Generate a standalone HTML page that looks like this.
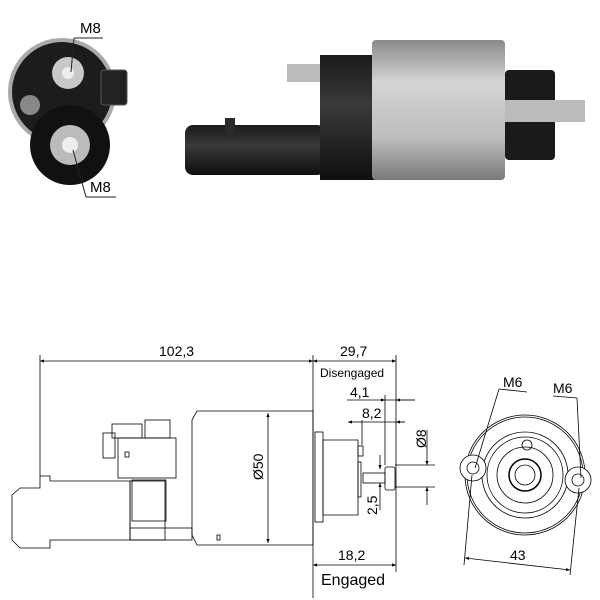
<!DOCTYPE html>
<html><head><style>body{margin:0;background:#fff}svg{display:block}</style></head><body>
<svg width="600" height="600" viewBox="0 0 600 600" xmlns="http://www.w3.org/2000/svg" font-family="Liberation Sans, sans-serif">
<defs>
<linearGradient id="sil" x1="0" y1="0" x2="0" y2="1"><stop offset="0" stop-color="#8a8a8a"/><stop offset="0.3" stop-color="#d4d4d2"/><stop offset="0.7" stop-color="#bdbdbb"/><stop offset="1" stop-color="#7a7a7a"/></linearGradient>
<linearGradient id="blk" x1="0" y1="0" x2="0" y2="1"><stop offset="0" stop-color="#1a1a1a"/><stop offset="0.4" stop-color="#3a3a3a"/><stop offset="1" stop-color="#0e0e0e"/></linearGradient>
<marker id="a" viewBox="0 0 10 10" refX="10" refY="5" markerWidth="7" markerHeight="5" orient="auto-start-reverse"><path d="M0,1L10,5L0,9z" fill="#000"/></marker>
</defs>
<!-- end view photo -->
<circle cx="62" cy="92" r="54" fill="#aaa"/>
<circle cx="62" cy="92" r="50" fill="#1c1c1c"/>
<circle cx="70" cy="145" r="40" fill="#111"/>
<circle cx="70" cy="145" r="20" fill="#bbb"/>
<circle cx="70" cy="145" r="8" fill="#eee"/>
<circle cx="68" cy="73" r="16" fill="#c8c8c8"/>
<circle cx="68" cy="73" r="6" fill="#eee"/>
<circle cx="30" cy="105" r="10" fill="#888"/>
<rect x="101" y="70" width="26" height="35" rx="3" fill="#222" stroke="#555"/>
<line x1="71" y1="72" x2="74" y2="38" stroke="#222"/><line x1="74" y1="38" x2="103" y2="38" stroke="#222"/>
<text x="80" y="33" font-size="15">M8</text>
<line x1="73" y1="150" x2="86" y2="197" stroke="#222"/><line x1="86" y1="197" x2="116" y2="197" stroke="#222"/>
<text x="90" y="192" font-size="15">M8</text>
<!-- side photo -->
<rect x="185" y="125" width="140" height="50" rx="8" fill="url(#blk)"/>
<rect x="225" y="118" width="10" height="20" fill="#2a2a2a"/>
<rect x="320" y="55" width="55" height="125" fill="url(#blk)"/>
<rect x="287" y="64" width="33" height="18" fill="#bbb"/>
<rect x="372" y="40" width="133" height="140" rx="4" fill="url(#sil)"/>
<rect x="505" y="70" width="50" height="90" rx="4" fill="#1a1a1a"/>
<rect x="505" y="100" width="80" height="22" fill="#bbb"/>
<!-- drawing -->
<g stroke="#000" stroke-width="0.8" fill="none">
<line x1="40" y1="355" x2="40" y2="476"/><line x1="313" y1="355" x2="313" y2="598"/><line x1="396" y1="355" x2="396" y2="572"/>
<line x1="40" y1="361" x2="313" y2="361" marker-start="url(#a)" marker-end="url(#a)"/>
<line x1="313" y1="361" x2="396" y2="361" marker-start="url(#a)" marker-end="url(#a)"/>
<line x1="347" y1="400" x2="385" y2="400" marker-end="url(#a)"/><line x1="385" y1="400" x2="415" y2="400"/>
<line x1="415" y1="400" x2="396" y2="400" marker-end="url(#a)"/>
<line x1="385" y1="395" x2="385" y2="465"/>
<line x1="348" y1="422" x2="362" y2="422" marker-start="url(#a)"/><line x1="362" y1="422" x2="405" y2="422"/>
<line x1="405" y1="422" x2="396" y2="422" marker-end="url(#a)"/>
<line x1="362" y1="420" x2="362" y2="445"/>
<line x1="395" y1="465" x2="435" y2="465"/><line x1="395" y1="487" x2="435" y2="487"/>
<line x1="427" y1="430" x2="427" y2="465" marker-end="url(#a)"/><line x1="427" y1="505" x2="427" y2="487" marker-end="url(#a)"/>
<line x1="380" y1="455" x2="380" y2="469" marker-end="url(#a)"/><line x1="380" y1="510" x2="380" y2="483" marker-end="url(#a)"/>
<line x1="268" y1="413" x2="268" y2="543" marker-start="url(#a)" marker-end="url(#a)"/>
<line x1="313" y1="565" x2="396" y2="565" marker-start="url(#a)" marker-end="url(#a)"/>
<!-- body -->
<path d="M197,411H313V545H197L192,535V420Z"/>
<rect x="315" y="432" width="8" height="90"/><path d="M323,440H358V515H323Z"/>
<rect x="358" y="446" width="5" height="10"/><rect x="358" y="462" width="3" height="35"/>
<rect x="363" y="473" width="22" height="10"/><rect x="385" y="467" width="10" height="23" rx="2"/>
<path d="M12,495L20,488H40V476H50V481H130V540H50V548H20L12,540Z"/>
<rect x="130" y="481" width="35" height="59"/><rect x="132" y="480" width="34" height="41"/>
<rect x="130" y="528" width="62" height="12"/>
<rect x="118" y="438" width="58" height="40"/><rect x="103" y="433" width="12" height="25"/>
<rect x="112" y="424" width="30" height="14"/><rect x="145" y="420" width="25" height="18"/>
<rect x="125" y="452" width="4" height="5"/><rect x="217" y="535" width="3" height="5"/>
<!-- end view drawing -->
<circle cx="525" cy="475" r="60"/><circle cx="525" cy="475" r="58"/>
<circle cx="525" cy="475" r="43"/><circle cx="525" cy="475" r="38"/>
<circle cx="525" cy="475" r="28"/><circle cx="525" cy="475" r="16" stroke-width="1.5"/>
<circle cx="525" cy="475" r="10"/><circle cx="527" cy="445" r="5"/>
<circle cx="473" cy="468" r="13" fill="#fff"/><circle cx="473" cy="468" r="6"/>
<circle cx="578" cy="480" r="13" fill="#fff"/><circle cx="578" cy="480" r="6"/>
<line x1="499" y1="389" x2="475" y2="468"/><line x1="499" y1="389" x2="527" y2="392"/>
<line x1="577" y1="398" x2="581" y2="478"/><line x1="553" y1="396" x2="577" y2="398"/>
<line x1="472" y1="475" x2="464" y2="565"/><line x1="579" y1="488" x2="570" y2="575"/>
<line x1="465" y1="558" x2="570" y2="570" marker-start="url(#a)" marker-end="url(#a)"/>
</g>
<g font-size="14">
<text x="159" y="356">102,3</text><text x="340" y="356">29,7</text>
<text x="320" y="377" font-size="12">Disengaged</text>
<text x="350" y="397">4,1</text><text x="362" y="418">8,2</text>
<text x="338" y="560">18,2</text><text x="321" y="585" font-size="16">Engaged</text>
<text x="510" y="560">43</text>
<text x="503" y="387">M6</text><text x="553" y="393">M6</text>
<text transform="translate(263,480) rotate(-90)">Ø50</text>
<text transform="translate(426,448) rotate(-90)">Ø8</text>
<text transform="translate(377,515) rotate(-90)">2,5</text>
</g>
</svg>
</body></html>
